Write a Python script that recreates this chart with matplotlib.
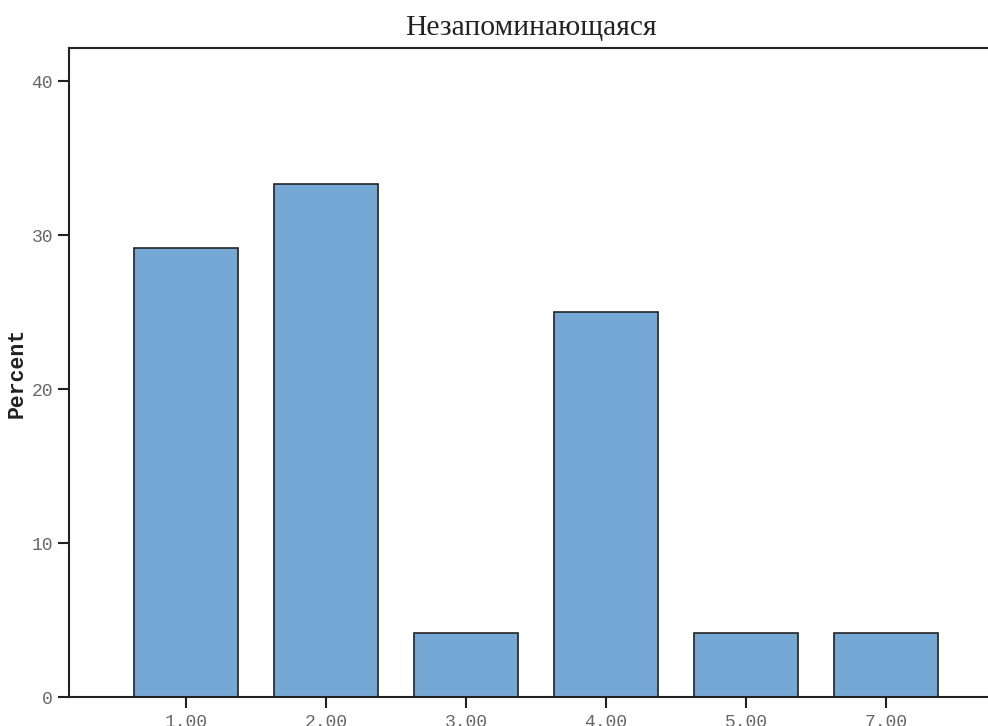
import matplotlib
matplotlib.use("Agg")
import matplotlib.pyplot as plt

categories = ["1.00", "2.00", "3.00", "4.00", "5.00", "7.00"]
percent = [29.17, 33.33, 4.17, 25.0, 4.17, 4.17]
yticks = [0, 10, 20, 30, 40]
title = "Незапоминающаяся"
ylabel = "Percent"

W, H = 988, 726
fig = plt.figure(figsize=(W / 100, H / 100), dpi=100)
left, right, top, bottom = 69, 988, 47.5, 697
ax = fig.add_axes([left / W, 1 - bottom / H, (right - left) / W, (bottom - top) / H])

x = list(range(len(categories)))
ax.bar(x, percent, width=104 / 140, color="#76a8d5", edgecolor="#222222", linewidth=1.2, zorder=2)

ax.set_xlim((69 - 186) / 140, (988 - 186) / 140)
ax.set_ylim(0, (697 - 47.5) / 15.4)
ax.set_xticks(x)
ax.set_xticklabels(categories)
ax.set_yticks(yticks)

mono = "Liberation Mono"
for lab in ax.get_xticklabels() + ax.get_yticklabels():
    lab.set_fontfamily(mono)
    lab.set_fontsize(13)
    lab.set_color("#666666")
ax.tick_params(axis="both", direction="out", length=8, width=1.5, color="#222222")
ax.tick_params(axis="y", pad=3.5)
ax.tick_params(axis="x", pad=4)

for s in ["left", "top", "bottom"]:
    ax.spines[s].set_linewidth(1.5)
    ax.spines[s].set_color("#222222")
ax.spines["right"].set_visible(False)

ax.set_ylabel(ylabel, fontfamily=mono, fontweight="bold", fontsize=15.5, color="#222222")
ax.yaxis.set_label_coords(17.5 / W, 1 - 373 / H, transform=fig.transFigure)
ax.yaxis.label.set_verticalalignment("center")
ax.yaxis.label.set_horizontalalignment("center")
fig.text(531 / W, 1 - 28 / H, title, ha="center", va="center",
         fontfamily="Liberation Serif", fontsize=21.3, color="#222222")

fig.savefig("out.png", dpi=100)
